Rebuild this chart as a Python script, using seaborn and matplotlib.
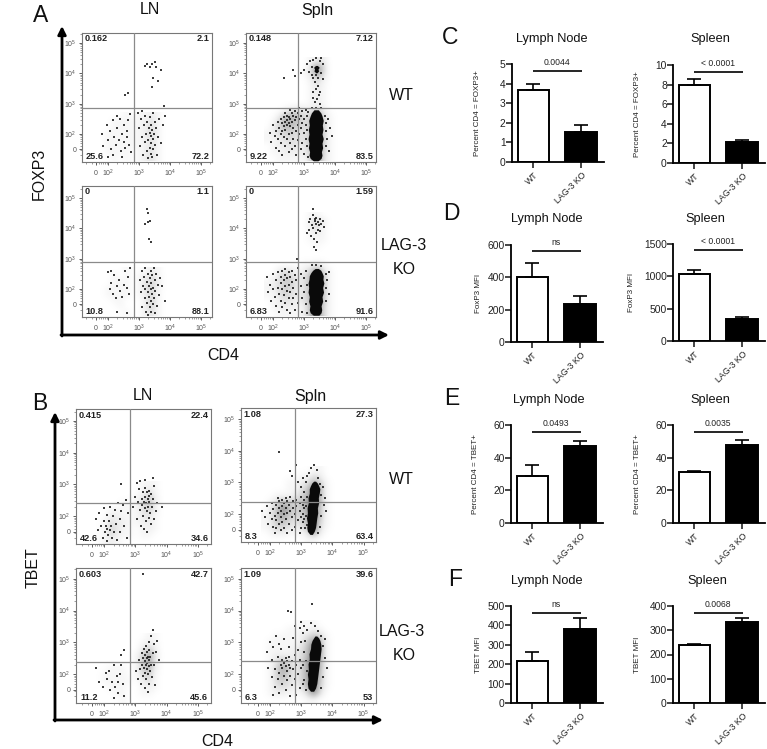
import numpy as np
import pandas as pd
import matplotlib
matplotlib.use("Agg")
import matplotlib.pyplot as plt
from matplotlib.patches import FancyArrowPatch
import seaborn as sns

sns.set_theme(style="white")
plt.rcParams["font.family"] = ["Liberation Sans", "DejaVu Sans"]
plt.rcParams["mathtext.default"] = "regular"

W, H = 767, 749

# ---------- flow cytometry events (decades of signal) ----------
A_LN_WT = [(3.18,4.25),(3.25,4.3),(3.35,4.2),(3.42,4.32),(3.5,4.38),(3.55,4.2),(3.72,4.12),(3.45,3.85),(3.6,3.75),(3.42,3.55),(2.55,3.3),(2.65,3.35),(3.8,2.92),
(1.8,2.0),(1.85,1.6),(1.95,2.3),(2.0,1.8),(2.05,2.1),(2.1,1.5),(2.15,2.45),(2.2,1.9),(2.25,1.65),(2.3,2.2),(2.35,1.8),(2.4,2.5),(2.42,1.45),(2.45,2.0),(2.5,1.75),(2.52,2.3),(2.55,1.55),(2.6,2.1),(2.62,1.9),(2.65,2.45),(2.68,1.65),(2.7,2.65),(2.75,1.4),(2.3,2.6),(2.15,1.3),(2.0,1.25),(2.45,1.25),
(2.95,2.7),(3.0,2.2),(3.02,1.6),(3.05,2.5),(3.08,1.9),(3.1,2.75),(3.12,1.3),(3.15,2.3),(3.18,1.75),(3.2,2.6),(3.22,2.0),(3.25,1.45),(3.27,2.4),(3.3,1.2),(3.3,1.8),(3.32,2.2),(3.34,1.55),(3.35,2.05),(3.36,2.55),(3.38,1.35),(3.38,1.95),(3.4,1.7),(3.4,2.3),(3.42,2.15),(3.42,1.25),(3.44,1.85),(3.45,2.7),(3.46,1.5),(3.48,2.0),(3.5,2.4),(3.52,1.65),(3.55,2.2),(3.58,1.3),(3.6,1.9),(3.65,2.5),(3.7,1.7),(3.78,2.3),(3.85,2.6)]

A_Spln_WT = [(2.7,3.9),(2.65,4.1),(2.35,3.85),(2.9,4.0),(3.0,4.1),(3.1,4.3),(3.15,4.05),(3.2,4.4),(3.25,4.2),(3.25,3.95),(3.3,4.45),(3.3,3.85),(3.35,3.7),(3.38,3.5),(3.4,3.95),(3.4,4.5),(3.45,3.6),(3.48,3.3),(3.5,4.4),(3.55,4.5),(3.55,4.0),(3.6,4.3),(3.62,3.8),(3.3,3.2),(3.35,3.05),(3.42,3.15),(3.5,3.0),(3.28,3.4),(3.45,3.85),(3.52,3.4),
(1.9,2.05),(1.95,1.75),(2.0,2.3),(2.05,1.95),(2.1,2.1),(2.1,1.55),(2.15,2.4),(2.15,1.85),(2.2,2.2),(2.2,1.45),(2.25,2.5),(2.25,2.0),(2.25,1.7),(2.3,2.35),(2.3,2.1),(2.3,1.3),(2.35,2.55),(2.35,2.25),(2.35,1.9),(2.4,2.4),(2.4,2.15),(2.4,1.6),(2.45,2.6),(2.45,2.45),(2.45,2.3),(2.45,1.85),(2.5,2.55),(2.5,2.35),(2.5,2.0),(2.5,1.4),(2.55,2.5),(2.55,2.25),(2.55,1.7),(2.6,2.7),(2.6,2.4),(2.6,2.05),(2.6,1.5),(2.65,2.6),(2.65,2.2),(2.65,1.85),(2.7,2.75),(2.7,2.45),(2.7,1.6),(2.75,2.55),(2.75,2.1),(2.75,1.3),(2.8,2.7),(2.8,2.3),(2.8,1.8),(2.85,2.85),(2.85,2.5),(2.85,2.0),(2.9,2.6),(2.9,2.2),(2.9,1.5),(2.95,2.75),(2.95,2.35),(2.95,1.7),(3.0,2.5),(3.0,2.05),(3.0,1.35),(3.05,2.8),(3.05,2.3),(3.05,1.85),(3.1,2.6),(3.1,2.15),(3.1,1.6),(3.12,1.25),(3.12,2.72),(3.68,2.6),(3.7,2.1),(3.7,1.6),(3.72,2.35),(3.75,1.85),(3.78,2.5),(3.8,1.45),(3.85,2.2),(3.9,1.95),(3.25,2.85),(3.4,2.85),(3.55,2.85),(2.4,2.7),(2.55,2.8)]
A_Spln_WT_blob_y = [1.12,1.2,1.3,1.42,1.55,1.7,1.85,2.0,2.15,2.3,2.45,2.6,2.7,2.8]
A_Spln_WT_blob_l = [3.3,3.2,3.16,3.18,3.14,3.16,3.13,3.16,3.14,3.17,3.15,3.2,3.24,3.32]
A_Spln_WT_blob_r = [3.45,3.55,3.58,3.56,3.6,3.58,3.62,3.58,3.61,3.59,3.62,3.58,3.54,3.46]
A_Spln_WT_top_y = [4.02,4.08,4.14,4.2,4.26]
A_Spln_WT_top_l = [3.38,3.32,3.34,3.31,3.37]
A_Spln_WT_top_r = [3.42,3.47,3.45,3.49,3.43]

A_LN_KO = [(3.25,4.65),(3.3,4.5),(3.2,4.15),(3.28,4.2),(3.35,4.25),(3.32,3.65),(3.38,3.55),
(2.0,2.55),(2.1,2.6),(2.05,2.0),(2.15,1.85),(2.1,2.2),(2.2,2.45),(2.25,1.7),(2.3,2.1),(2.35,2.3),(2.4,1.95),(2.45,1.75),(2.5,2.15),(2.55,2.6),(2.6,2.05),(2.65,2.4),(2.7,2.7),(2.68,1.85),(2.6,1.2),(2.3,1.25),
(3.02,2.3),(3.05,1.9),(3.08,2.6),(3.1,1.4),(3.12,2.1),(3.15,2.4),(3.18,1.7),(3.2,2.7),(3.2,2.0),(3.22,1.25),(3.25,2.25),(3.27,1.55),(3.28,1.9),(3.3,2.5),(3.3,1.15),(3.32,2.1),(3.33,1.75),(3.35,2.35),(3.35,1.4),(3.37,2.0),(3.38,2.6),(3.38,1.6),(3.4,2.2),(3.4,1.25),(3.42,1.85),(3.43,2.45),(3.45,1.5),(3.45,2.05),(3.47,2.7),(3.48,1.7),(3.5,2.3),(3.5,1.2),(3.52,1.95),(3.55,2.5),(3.58,1.45),(3.6,2.15),(3.65,1.8),(3.68,2.35),(3.75,2.1),(3.82,1.6)]

A_Spln_KO = [(3.1,3.85),(3.15,3.95),(3.15,4.2),(3.2,4.3),(3.22,3.75),(3.25,4.1),(3.3,4.45),(3.3,4.0),(3.32,3.65),(3.35,4.25),(3.35,4.3),(3.38,3.85),(3.4,4.35),(3.4,4.15),(3.42,3.55),(3.45,4.2),(3.45,3.95),(3.48,4.1),(3.5,4.3),(3.52,3.9),(3.55,4.15),(3.6,4.25),(3.65,4.05),(3.32,3.4),(3.4,3.3),(3.28,4.65),(2.78,3.0),
(1.8,2.4),(1.85,1.9),(1.9,2.15),(1.95,1.6),(2.0,2.5),(2.0,2.0),(2.05,1.75),(2.1,2.3),(2.1,1.45),(2.15,2.55),(2.15,2.05),(2.2,1.85),(2.2,1.25),(2.25,2.4),(2.25,2.2),(2.25,1.6),(2.3,2.6),(2.3,2.0),(2.3,1.4),(2.35,2.3),(2.35,1.8),(2.4,2.65),(2.4,2.45),(2.4,2.1),(2.4,1.55),(2.45,2.35),(2.45,1.95),(2.45,1.3),(2.5,2.55),(2.5,2.15),(2.5,1.7),(2.55,2.4),(2.55,1.9),(2.55,1.2),(2.6,2.6),(2.6,2.25),(2.6,1.5),(2.65,2.05),(2.65,1.7),(2.7,2.45),(2.7,1.3),(2.75,2.3),(2.75,1.85),(2.8,2.7),(2.8,1.55),(2.9,2.5),(2.9,2.1),(2.95,1.7),(2.95,1.25),(3.0,2.35),(3.0,1.9),(3.05,2.6),(3.05,1.5),(3.08,2.15),(3.08,1.2),(3.7,2.5),(3.72,2.05),(3.7,1.6),(3.75,2.3),(3.8,2.55),(3.82,1.85),(3.25,2.78),(3.4,2.8),(3.55,2.75)]
A_Spln_KO_blob_y = [1.14,1.22,1.32,1.45,1.6,1.75,1.9,2.05,2.2,2.32,2.44,2.54,2.62,2.68]
A_Spln_KO_blob_l = [3.3,3.2,3.17,3.19,3.15,3.17,3.13,3.15,3.13,3.16,3.17,3.22,3.28,3.36]
A_Spln_KO_blob_r = [3.48,3.55,3.57,3.55,3.6,3.58,3.63,3.6,3.64,3.61,3.62,3.58,3.54,3.46]

B_LN_WT = [(2.55,3.0),(3.05,3.05),(3.15,3.1),(3.3,3.15),(3.55,3.2),(3.6,2.95),
(1.75,1.9),(1.8,1.55),(1.85,2.1),(1.9,1.7),(1.95,1.3),(1.98,2.25),(2.0,1.85),(2.02,1.5),(2.05,1.7),(2.08,1.2),(2.1,2.05),(2.1,1.6),(2.12,1.4),(2.15,1.85),(2.18,1.55),(2.2,2.3),(2.22,1.7),(2.25,1.3),(2.28,2.0),(2.3,1.5),(2.35,2.2),(2.38,1.75),(2.4,1.25),(2.45,2.4),(2.5,1.9),(2.52,1.5),(2.55,2.15),(2.6,2.35),(2.65,1.7),(2.7,2.5),(2.72,1.3),(2.75,2.1),
(2.92,2.3),(3.0,2.6),(3.05,1.9),(3.08,2.45),(3.12,2.85),(3.15,2.2),(3.18,1.7),(3.2,2.55),(3.22,2.35),(3.25,2.75),(3.25,2.0),(3.28,2.45),(3.28,1.6),(3.3,2.9),(3.3,2.25),(3.32,2.6),(3.33,1.85),(3.35,2.4),(3.36,2.75),(3.37,2.15),(3.38,1.5),(3.4,2.55),(3.4,2.3),(3.42,2.8),(3.42,1.95),(3.45,2.65),(3.45,2.45),(3.47,2.1),(3.5,2.7),(3.5,1.75),(3.52,2.3),(3.55,2.55),(3.6,1.9),(3.65,2.15),(3.7,2.4),(3.85,2.3)]

B_Spln_WT = [(2.3,3.95),(2.65,3.35),(2.72,3.2),(2.85,3.55),(2.9,3.0),(3.0,2.85),(3.05,3.15),(3.1,2.7),(3.15,3.0),(3.18,2.55),(3.2,3.2),(3.25,3.3),(3.3,3.45),(3.4,3.55),(3.5,3.4),(3.55,3.15),(3.6,2.95),(3.65,2.6),(3.7,2.85),(3.72,2.3),(3.75,2.5),(3.8,2.1),(3.65,1.95),(3.6,1.6),(3.55,1.4),(3.05,1.75),(3.1,2.2),(3.12,1.55),
(1.75,2.1),(1.85,1.9),(1.9,2.25),(1.95,1.7),(2.0,2.05),(2.05,1.85),(2.05,2.35),(2.1,1.6),(2.1,2.15),(2.15,1.95),(2.15,1.4),(2.2,2.3),(2.2,1.8),(2.25,2.5),(2.25,2.05),(2.3,1.7),(2.3,2.2),(2.3,2.4),(2.35,1.9),(2.35,1.5),(2.35,2.1),(2.4,2.45),(2.4,2.25),(2.4,1.75),(2.45,2.35),(2.45,2.0),(2.45,1.55),(2.5,2.5),(2.5,2.2),(2.5,1.85),(2.55,2.4),(2.55,2.05),(2.55,1.4),(2.6,2.3),(2.6,1.7),(2.65,2.55),(2.65,2.1),(2.7,1.9),(2.7,1.5),(2.75,2.4),(2.75,2.2),(2.8,2.0),(2.8,1.6),(2.85,2.45),(2.85,2.25),(2.9,1.8),(2.95,2.35),(2.95,2.1),(3.0,2.55),(3.0,1.9),(3.0,1.55),(3.05,2.3),(3.05,2.0),(3.1,2.45),(3.1,1.85),(3.15,2.25),(3.15,1.95),(3.18,1.65),(2.95,1.4),(2.2,1.55)]
B_Spln_WT_blob_y = [1.36,1.46,1.58,1.72,1.88,2.04,2.2,2.36,2.52,2.66,2.8,2.9,2.98,3.04]
B_Spln_WT_blob_l = [3.28,3.2,3.18,3.2,3.17,3.2,3.19,3.23,3.22,3.26,3.26,3.3,3.34,3.4]
B_Spln_WT_blob_r = [3.36,3.42,3.46,3.48,3.5,3.53,3.52,3.56,3.55,3.58,3.6,3.56,3.52,3.46]

B_LN_KO = [(3.25,5.15),(2.65,2.75),(2.55,2.6),
(1.75,2.2),(1.85,1.75),(1.95,1.6),(2.05,2.05),(2.1,1.85),(2.15,2.1),(2.2,1.5),(2.25,1.75),(2.3,2.3),(2.35,1.6),(2.4,1.95),(2.45,1.4),(2.5,2.0),(2.55,2.3),(2.6,1.7),(2.65,1.3),(2.3,1.25),(2.45,1.75),
(3.02,2.1),(3.08,1.85),(3.1,2.45),(3.15,2.15),(3.18,1.7),(3.2,2.65),(3.22,2.3),(3.25,1.95),(3.25,2.5),(3.27,2.8),(3.28,2.2),(3.3,1.55),(3.3,2.4),(3.32,2.05),(3.32,2.6),(3.33,2.3),(3.35,2.9),(3.35,1.85),(3.36,2.5),(3.37,2.15),(3.38,2.7),(3.38,2.35),(3.4,1.45),(3.4,2.55),(3.4,2.0),(3.42,2.25),(3.42,3.0),(3.44,2.45),(3.45,1.7),(3.45,2.75),(3.47,2.1),(3.48,2.55),(3.5,2.3),(3.5,3.2),(3.52,1.9),(3.55,2.65),(3.55,3.38),(3.58,2.95),(3.6,2.3),(3.62,1.65),(3.65,2.7),(3.7,3.05),(3.75,2.45)]

B_Spln_KO = [(2.58,4.0),(2.68,3.95),(3.35,4.2),(2.8,3.5),(2.95,3.45),(3.0,3.65),(3.05,3.3),(3.1,3.5),(3.2,3.4),(3.3,3.6),(3.45,3.5),(3.55,3.35),(3.65,3.2),(3.7,2.9),(3.75,3.1),(3.78,2.5),(3.82,2.2),(3.7,1.9),(3.65,1.55),(3.1,1.8),(3.05,2.3),(3.08,2.7),(3.12,3.05),(3.15,2.4),(3.15,1.5),(3.18,2.1),
(1.9,2.7),(1.95,2.2),(2.0,3.0),(2.05,1.9),(2.05,2.45),(2.1,2.85),(2.15,1.6),(2.15,2.15),(2.2,3.2),(2.25,1.85),(2.25,2.55),(2.3,1.4),(2.3,2.05),(2.35,2.8),(2.35,2.3),(2.4,1.7),(2.4,2.45),(2.4,2.2),(2.45,2.35),(2.45,1.95),(2.45,3.1),(2.5,2.5),(2.5,2.25),(2.5,1.5),(2.55,2.4),(2.55,2.1),(2.55,1.8),(2.6,2.55),(2.6,2.3),(2.6,2.85),(2.65,2.2),(2.65,1.95),(2.65,1.3),(2.7,2.4),(2.7,1.65),(2.75,2.15),(2.75,3.15),(2.8,2.6),(2.8,1.85),(2.85,2.3),(2.9,2.0),(2.9,2.75),(2.95,1.55),(2.95,2.45),(3.0,2.2),(3.0,3.0),(3.05,1.7),(2.85,1.35),(2.1,1.35),(2.3,2.95)]
B_Spln_KO_blob_y = [1.46,1.56,1.7,1.85,2.0,2.16,2.32,2.48,2.64,2.8,2.94,3.06,3.14,3.2]
B_Spln_KO_blob_l = [3.3,3.22,3.2,3.22,3.2,3.23,3.22,3.26,3.25,3.3,3.31,3.35,3.4,3.44]
B_Spln_KO_blob_r = [3.4,3.46,3.5,3.52,3.54,3.56,3.58,3.6,3.62,3.64,3.63,3.6,3.56,3.5]

# ---------- event density on a 0.2-decade grid (columns x = 1.8 ... 4.0, rows y = 1.2 upward) ----------
D_A_LN_WT = [[0,0,1,0,1,0,1,2,3,1,0,0],[0,1,1,1,1,0,1,2,3,1,0,0],[0,1,1,1,1,1,1,2,3,1,0,0],[0,1,1,1,1,1,1,2,3,1,0,0],
             [0,1,1,1,1,1,1,2,4,1,0,0],[0,0,1,1,1,1,1,2,3,1,0,0],[0,0,1,1,1,1,1,2,3,1,0,0],[0,0,0,0,1,0,1,1,2,1,0,0]]
D_A_Spln_WT = [[0,0,1,1,1,1,1,4,9,3,1,0],[0,1,1,2,2,2,2,5,9,4,1,0],[0,1,2,2,3,2,2,5,9,4,1,0],[1,1,2,3,3,3,3,5,9,4,1,0],
               [1,2,3,4,4,3,3,5,9,4,1,0],[0,2,4,6,5,4,3,5,9,4,1,0],[0,1,4,7,6,5,3,5,9,4,1,0],[0,0,2,5,6,5,3,4,9,3,1,0],
               [0,0,0,1,2,3,2,2,3,2,0,0],[0,0,0,0,0,0,0,1,2,1,0,0],[0,0,0,0,0,0,0,1,2,1,0,0],[0,0,0,0,0,0,0,1,2,1,0,0],
               [0,0,0,0,0,0,0,1,3,1,0,0],[0,0,0,0,0,0,0,2,4,2,0,0],[0,0,0,0,0,0,1,3,8,4,0,0],[0,0,0,0,0,0,0,3,7,4,0,0],[0,0,0,0,0,0,0,1,2,2,0,0]]
D_A_LN_KO = [[0,0,0,0,1,0,0,2,3,1,0,0],[0,0,0,1,0,0,0,2,4,1,0,0],[0,0,1,1,0,0,0,2,4,1,0,0],[0,1,1,1,1,0,1,2,4,1,0,0],
             [0,1,1,1,1,0,1,3,4,1,0,0],[0,0,1,1,1,0,1,3,4,2,0,0],[0,0,1,0,1,0,1,2,3,1,0,0],[0,0,0,0,1,0,0,1,2,1,0,0]]
D_A_Spln_KO = [[0,0,1,1,1,1,2,6,9,4,1,0],[0,1,2,2,2,1,2,6,9,4,1,0],[0,1,2,3,2,2,3,6,9,5,1,0],[1,1,3,4,3,2,3,6,9,5,1,0],
               [1,2,3,5,3,2,3,6,9,5,1,0],[1,2,3,5,4,2,3,6,9,5,1,0],[0,1,3,5,3,2,3,6,9,5,1,0],[0,0,2,3,2,1,2,4,7,3,1,0],
               [0,0,0,0,0,0,1,1,2,1,0,0],[0,0,0,0,0,0,0,0,0,0,0,0],[0,0,0,0,0,0,0,0,0,0,0,0],[0,0,0,0,0,0,0,0,1,0,0,0],
               [0,0,0,0,0,0,0,1,1,1,0,0],[0,0,0,0,0,0,0,1,2,1,0,0],[0,0,0,0,0,0,0,2,3,1,0,0],[0,0,0,0,0,0,0,2,4,2,0,0],[0,0,0,0,0,0,0,1,1,0,0,0]]
D_B_LN_WT = [[0,1,2,1,0,0,0,0,0,0,0,0],[0,1,3,2,1,1,0,1,1,0,0,0],[0,1,4,3,1,1,0,1,2,1,0,0],[0,1,3,2,2,1,1,2,2,1,0,0],
             [0,0,2,2,1,1,1,2,3,1,0,0],[0,0,1,1,1,1,1,3,4,2,0,0],[0,0,0,0,1,1,1,3,5,2,0,0],[0,0,0,0,0,0,1,2,5,2,0,0],
             [0,0,0,0,0,0,0,1,3,1,0,0],[0,0,0,0,0,0,0,1,1,1,0,0]]
D_B_Spln_WT = [[0,0,0,0,0,0,0,1,1,0,0,0],[0,1,2,2,1,1,1,3,7,2,0,0],[1,2,4,4,3,2,3,5,9,3,1,0],[1,2,5,6,4,3,4,6,9,4,1,0],
               [1,2,5,7,5,4,4,7,9,5,1,0],[0,2,5,8,6,4,5,7,9,5,1,0],[0,1,3,5,4,4,5,7,9,6,1,0],[0,0,1,1,1,2,4,6,9,6,1,0],
               [0,0,0,0,1,1,3,5,9,6,1,0],[0,0,0,0,1,1,2,3,6,4,1,0],[0,0,0,0,0,0,1,1,3,2,0,0],[0,0,0,0,0,0,0,0,1,1,0,0]]
D_B_LN_KO = [[0,0,0,0,1,0,0,0,0,0,0,0],[0,0,0,1,1,0,0,1,1,0,0,0],[0,0,1,1,1,0,0,1,2,1,0,0],[0,1,1,1,1,1,0,2,3,1,0,0],
             [0,1,1,1,1,0,1,3,5,1,0,0],[0,0,1,1,1,0,1,4,6,2,0,0],[0,0,0,0,0,0,1,4,7,2,0,0],[0,0,0,0,0,0,1,4,7,3,0,0],
             [0,0,0,0,0,0,0,2,4,2,0,0],[0,0,0,0,0,0,0,1,2,1,0,0],[0,0,0,0,0,0,0,0,1,1,0,0]]
D_B_Spln_KO = [[0,0,0,0,0,0,0,1,1,0,0,0],[0,1,2,2,1,1,1,4,8,3,0,0],[0,1,3,3,3,1,3,6,9,4,1,0],[0,1,4,5,3,2,4,7,9,5,1,0],
               [0,1,4,6,4,2,4,7,9,5,1,0],[0,1,4,7,5,2,4,7,9,6,1,0],[0,1,3,5,3,2,4,7,9,6,1,0],[0,1,2,2,2,2,3,6,9,7,1,0],
               [0,1,1,1,1,2,3,6,9,7,1,0],[0,1,1,1,1,1,2,5,8,6,1,0],[0,0,1,1,1,1,2,3,5,4,1,0],[0,0,0,0,1,1,1,1,2,1,0,0],[0,0,0,0,0,0,1,1,1,0,0,0]]

# ---------- quadrant percentages (UL, UR, LL, LR) ----------
Q_A_LN_WT = ["0.162", "2.1", "25.6", "72.2"]
Q_A_Spln_WT = ["0.148", "7.12", "9.22", "83.5"]
Q_A_LN_KO = ["0", "1.1", "10.8", "88.1"]
Q_A_Spln_KO = ["0", "1.59", "6.83", "91.6"]
Q_B_LN_WT = ["0.415", "22.4", "42.6", "34.6"]
Q_B_Spln_WT = ["1.08", "27.3", "8.3", "63.4"]
Q_B_LN_KO = ["0.603", "42.7", "11.2", "45.6"]
Q_B_Spln_KO = ["1.09", "39.6", "6.3", "53"]

# ---------- bar charts ----------
groups = ["WT", "LAG-3 KO"]
C_LN_mean, C_LN_top = [3.65, 1.52], [3.98, 1.87]
C_Sp_mean, C_Sp_top = [7.95, 2.15], [8.6, 2.35]
D_LN_mean, D_LN_top = [405, 238], [490, 282]
D_Sp_mean, D_Sp_top = [1040, 345], [1095, 370]
E_LN_mean, E_LN_top = [29, 47], [35.5, 50]
E_Sp_mean, E_Sp_top = [31, 48], [32, 51]
F_LN_mean, F_LN_top = [215, 382], [262, 440]
F_Sp_mean, F_Sp_top = [240, 332], [243, 352]

fig = plt.figure(figsize=(W / 100, H / 100), dpi=100, facecolor="white")


def add_ax(l, t, r, b):
    return fig.add_axes([l / W, 1 - b / H, (r - l) / W, (b - t) / H])


def ftext(x, y, s, **kw):
    kw.setdefault("ha", "center")
    kw.setdefault("va", "center")
    kw.setdefault("color", "#111111")
    fig.text(x / W, 1 - y / H, s, **kw)


GREY = "#777777"
DEC = [2, 3, 4, 5]
MINOR = [d + np.log10(m) for d in [1, 2, 3, 4, 5] for m in range(2, 10)]


def flow(box, lims, gate, pts, quad, density, blobs=()):
    ax = add_ax(*box)
    dens = np.array(density, dtype=float)
    ax.imshow(dens, origin="lower", cmap="Greys", vmin=0, vmax=15, aspect="auto",
              interpolation="bicubic", zorder=0,
              extent=(1.7, 1.7 + 0.2 * dens.shape[1], 1.1, 1.1 + 0.2 * dens.shape[0]))
    for by, bl, br in blobs:
        ax.fill_betweenx(by, bl, br, color="#0a0a0a", lw=0, zorder=1)
    x, y = zip(*pts)
    sns.scatterplot(x=list(x), y=list(y), ax=ax, s=0.8, marker="s", color="#1c1c1c",
                    linewidth=0, alpha=0.85, legend=False, zorder=2)
    ax.set_xlim(lims[0], lims[1])
    ax.set_ylim(lims[2], lims[3])
    ax.axvline(gate[0], color="#8a8a8a", lw=0.9, zorder=3)
    ax.axhline(gate[1], color="#8a8a8a", lw=0.9, zorder=3)
    for s in ax.spines.values():
        s.set_color(GREY)
        s.set_linewidth(0.8)
    ax.set_xticks([1.6] + DEC)
    ax.set_xticklabels(["0"] + [f"$10^{d}$" for d in DEC], va="center")
    ax.set_yticks([1.5] + DEC)
    ax.set_yticklabels(["0"] + [f"$10^{d}$" for d in DEC])
    ax.set_xticks([m for m in MINOR if lims[0] < m < lims[1]], minor=True)
    ax.set_yticks([m for m in MINOR if lims[2] < m < lims[3]], minor=True)
    ax.tick_params(axis="both", which="major", length=2.2, width=0.6, color="#444444",
                   labelsize=5, labelcolor="#555555", bottom=True, left=True)
    ax.tick_params(axis="x", which="major", pad=6)
    ax.tick_params(axis="y", which="major", pad=2)
    ax.tick_params(axis="both", which="minor", length=1.2, width=0.4, color="#555555",
                   bottom=True, left=True)
    kw = dict(transform=ax.transAxes, fontsize=6.6, fontweight="bold", color="#222222", zorder=5)
    ax.text(0.02, 0.955, quad[0], ha="left", va="center", **kw)
    ax.text(0.98, 0.955, quad[1], ha="right", va="center", **kw)
    ax.text(0.03, 0.04, quad[2], ha="left", va="center", **kw)
    ax.text(0.98, 0.04, quad[3], ha="right", va="center", **kw)
    return ax


flow((82, 33, 212, 162), (1.16, 5.35, 1.08, 5.33), (2.84, 2.86), A_LN_WT, Q_A_LN_WT, D_A_LN_WT)
flow((246, 33, 376, 162), (1.13, 5.32, 1.08, 5.33), (2.8, 2.86), A_Spln_WT, Q_A_Spln_WT, D_A_Spln_WT,
     [(A_Spln_WT_blob_y, A_Spln_WT_blob_l, A_Spln_WT_blob_r),
      (A_Spln_WT_top_y, A_Spln_WT_top_l, A_Spln_WT_top_r)])
flow((82, 186, 212, 317), (1.16, 5.35, 1.08, 5.4), (2.84, 2.89), A_LN_KO, Q_A_LN_KO, D_A_LN_KO)
flow((246, 186, 376, 317), (1.13, 5.32, 1.08, 5.4), (2.8, 2.89), A_Spln_KO, Q_A_Spln_KO, D_A_Spln_KO,
     [(A_Spln_KO_blob_y, A_Spln_KO_blob_l, A_Spln_KO_blob_r)])
flow((76, 409, 211, 544), (1.1, 5.42, 1.12, 5.38), (2.83, 2.41), B_LN_WT, Q_B_LN_WT, D_B_LN_WT)
flow((241, 408, 376, 542), (1.07, 5.4, 1.12, 5.35), (2.8, 2.38), B_Spln_WT, Q_B_Spln_WT, D_B_Spln_WT,
     [(B_Spln_WT_blob_y, B_Spln_WT_blob_l, B_Spln_WT_blob_r)])
flow((76, 568, 211, 703), (1.1, 5.42, 1.09, 5.34), (2.83, 2.38), B_LN_KO, Q_B_LN_KO, D_B_LN_KO)
flow((241, 568, 376, 703), (1.07, 5.4, 1.09, 5.34), (2.8, 2.41), B_Spln_KO, Q_B_Spln_KO, D_B_Spln_KO,
     [(B_Spln_KO_blob_y, B_Spln_KO_blob_l, B_Spln_KO_blob_r)])


def bars(axis_x, ytop, y0, means, tops, ticks, ylabel, label_x, sig, sig_y, title, title_xy):
    ax = add_ax(axis_x, ytop, axis_x + 92, y0)
    df = pd.DataFrame({"group": groups, "value": means})
    sns.barplot(data=df, x="group", y="value", hue="group", order=groups, hue_order=groups,
                palette=["white", "black"], dodge=False, width=0.66, edgecolor="black",
                linewidth=1.4, errorbar=None, legend=False, ax=ax)
    for i in range(2):
        ax.errorbar([i], [means[i]], yerr=[[0], [tops[i] - means[i]]], color="black",
                    lw=1.2, capsize=5, capthick=1.2, zorder=1)
    ax.set_xlim(-0.45, 1.48)
    ax.set_ylim(0, ticks[-1])
    ax.set_yticks(ticks)
    ax.set_xticks([0, 1])
    ax.set_xticklabels(groups, rotation=45, ha="right", rotation_mode="anchor", fontsize=6.3,
                       color="#222222")
    ax.tick_params(axis="y", length=4, width=1.2, labelsize=7.4, pad=0.5, left=True,
                   labelcolor="#222222")
    ax.tick_params(axis="x", length=4, width=1.2, pad=2, bottom=True)
    sns.despine(ax=ax)
    for s in ["left", "bottom"]:
        ax.spines[s].set_color("black")
        ax.spines[s].set_linewidth(1.3)
    ax.set_xlabel("")
    ax.set_ylabel(ylabel, fontsize=5.8, color="#222222")
    ax.yaxis.set_label_coords((label_x - axis_x) / 92, 0.5)
    ax.plot([0, 1.02], [sig_y, sig_y], color="black", lw=1.2, clip_on=False,
            solid_capstyle="butt")
    ax.annotate(sig, xy=(0.5, sig_y), xytext=(0, 6), textcoords="offset points", ha="center",
                va="center", fontsize=6.2, color="#222222", annotation_clip=False)
    ftext(title_xy[0], title_xy[1], title, fontsize=9.2)


P5 = "Percent CD4 = FOXP3+"
PT = "Percent CD4 = TBET+"
bars(512, 64, 162, C_LN_mean, C_LN_top, [0, 1, 2, 3, 4, 5], P5, 481, "0.0044", 4.64, "Lymph Node", (552, 39))
bars(673, 65, 163, C_Sp_mean, C_Sp_top, [0, 2, 4, 6, 8, 10], P5, 641, "< 0.0001", 9.3, "Spleen", (710, 39))
bars(511, 245, 342, D_LN_mean, D_LN_top, [0, 200, 400, 600], "FoxP3 MFI", 482, "ns", 563, "Lymph Node", (547, 219))
bars(673, 244, 341, D_Sp_mean, D_Sp_top, [0, 500, 1000, 1500], "FoxP3 MFI", 635, "< 0.0001", 1410, "Spleen", (705, 219))
bars(511, 425, 523, E_LN_mean, E_LN_top, [0, 20, 40, 60], PT, 479, "0.0493", 56, "Lymph Node", (549, 400))
bars(673, 425, 523, E_Sp_mean, E_Sp_top, [0, 20, 40, 60], PT, 641, "0.0035", 56, "Spleen", (710, 400))
bars(511, 606, 703, F_LN_mean, F_LN_top, [0, 100, 200, 300, 400, 500], "TBET MFI", 482, "ns", 465, "Lymph Node", (547, 581))
bars(673, 606, 703, F_Sp_mean, F_Sp_top, [0, 100, 200, 300, 400], "TBET MFI", 641, "0.0068", 372, "Spleen", (707, 581))

# ---------- panel letters and labels ----------
for s, x, y in [("A", 41, 16), ("B", 40, 403), ("C", 450, 37), ("D", 451, 213), ("E", 452, 398), ("F", 455, 579)]:
    ftext(x, y, s, fontsize=16.5)
for s, x, y in [("LN", 150, 10), ("Spln", 317, 10), ("LN", 143, 396), ("Spln", 310, 396),
                ("WT", 401, 96), ("LAG-3", 404, 246), ("KO", 404, 270),
                ("WT", 401, 480), ("LAG-3", 402, 632), ("KO", 404, 655),
                ("CD4", 223, 356), ("CD4", 217, 742)]:
    ftext(x, y, s, fontsize=11.5)
ftext(39, 174, "FOXP3", fontsize=11.5, rotation=90)
ftext(33, 568, "TBET", fontsize=11.5, rotation=90)


def arrow(x0, y0, x1, y1):
    fig.add_artist(FancyArrowPatch((x0 / W, 1 - y0 / H), (x1 / W, 1 - y1 / H),
                                   transform=fig.transFigure, arrowstyle="-|>", mutation_scale=12,
                                   lw=2.0, color="black", shrinkA=0, shrinkB=0))


arrow(62, 336, 62, 26)
arrow(61, 335, 389, 335)
arrow(55, 721, 55, 412)
arrow(54, 720, 383, 720)

fig.savefig("out.png", dpi=100, facecolor="white")
